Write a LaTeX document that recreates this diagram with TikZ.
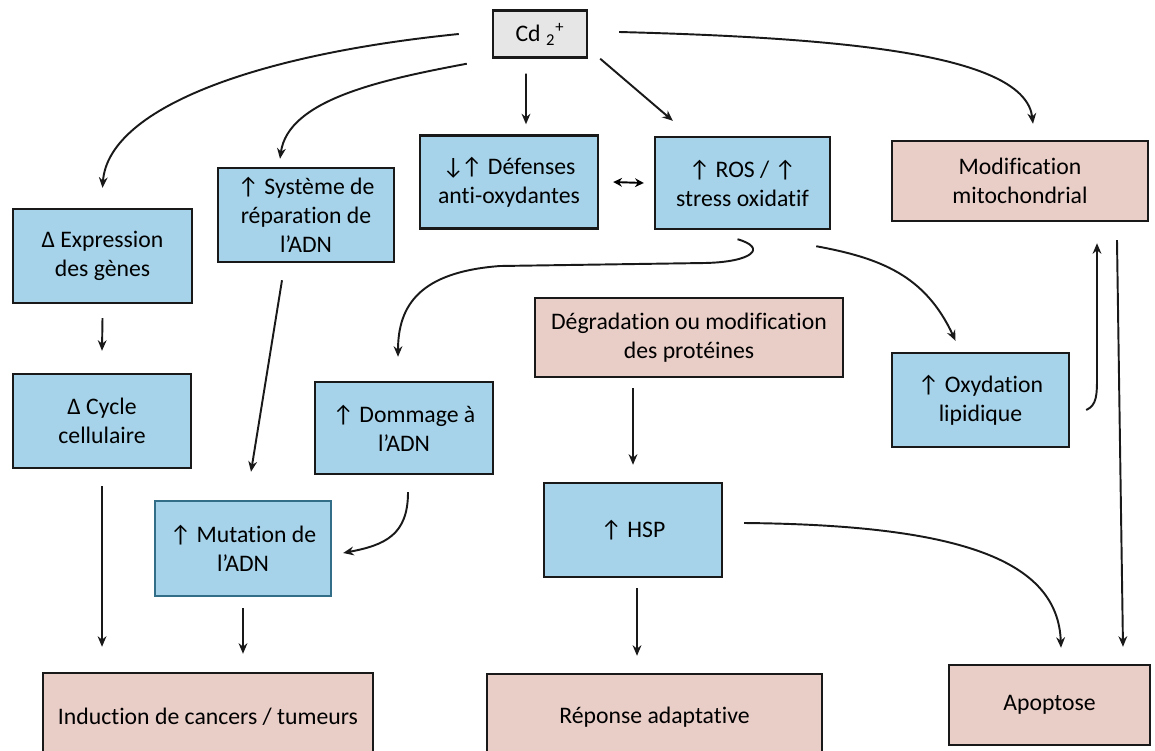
\documentclass[tikz,border=0pt]{standalone}
\usepackage{fontspec}
\setmainfont{Carlito}[Ligatures=NoCommon]
\usetikzlibrary{arrows.meta}
\definecolor{boxblue}{HTML}{A6D3E9}
\definecolor{boxpink}{HTML}{E9CDC7}
\definecolor{boxgray}{HTML}{E6E6E6}
\definecolor{mutedge}{HTML}{336E88}
\tikzset{
	box/.style={rectangle, draw=black!90, line width=1.4pt, align=center, font=\fontsize{13.5}{16.5}\selectfont, inner sep=2pt},
	bluebox/.style={box, fill=boxblue},
	pinkbox/.style={box, fill=boxpink},
	arr/.style={-{Stealth[length=6pt,width=5pt]}, line width=1.1pt, black!90},
}
\begin{document}
\begin{tikzpicture}[x=0.02cm, y=-0.02cm]
		\useasboundingbox (0,0) rectangle (1155,750);
		\node[box, fill=boxgray, minimum width=1.88cm, minimum height=0.94cm] (cd) at (540,34) {Cd \textsubscript{2}\textsuperscript{+}};

		\node[bluebox, minimum width=3.56cm, minimum height=1.86cm] (def) at (509,182) {↓\kern-0.12em↑ Défenses\\anti-oxydantes};
		\node[bluebox, minimum width=3.5cm, minimum height=1.84cm] (ros) at (742.5,183) {↑ ROS / ↑\\stress oxidatif};
		\node[pinkbox, minimum width=5.12cm, minimum height=1.6cm] (mito) at (1020,181) {Modification\\mitochondrial};
		\node[bluebox, minimum width=3.58cm, minimum height=1.88cm] (expr) at (102.5,256) {Δ Expression\\des gènes};
		\node[bluebox, minimum width=3.52cm, minimum height=1.88cm] (sys) at (306,215) {↑ Système de\\réparation de\\l’ADN};
		\node[bluebox, minimum width=3.56cm, minimum height=1.88cm] (cyc) at (102,421) {Δ Cycle\\cellulaire};
		\node[bluebox, minimum width=3.56cm, minimum height=1.84cm] (dom) at (404,428) {↑ Dommage à\\l’ADN};
		\node[bluebox, draw=mutedge, minimum width=3.52cm, minimum height=1.9cm] (mut) at (243,548.5) {↑ Mutation de\\l’ADN};
		\node[pinkbox, minimum width=6.16cm, minimum height=1.58cm] (deg) at (689,337.5) {Dégradation ou modification\\des protéines};
		\node[bluebox, minimum width=3.56cm, minimum height=1.88cm] (hsp) at (633,530) {↑ HSP};
		\node[bluebox, minimum width=3.54cm, minimum height=1.88cm] (oxy) at (980.5,400) {↑ Oxydation\\lipidique};

		\node[pinkbox, minimum width=6.6cm, minimum height=1.76cm] (ind) at (208,717) {Induction de cancers / tumeurs};
		\node[pinkbox, minimum width=6.7cm, minimum height=1.72cm] (rep) at (654.5,717) {Réponse adaptative};
		\node[pinkbox, minimum width=4.02cm, minimum height=1.6cm] (apo) at (1049.5,705) {Apoptose};

		\draw[arr] ([xshift=-0.66cm]cd.west) .. controls (250,55) and (108,110) .. ([yshift=0.4cm]expr.north);
		\draw[arr] ([xshift=-0.5cm,yshift=-0.1cm]cd.south west) .. controls (380,80) and (288,100) .. ([xshift=-0.52cm,yshift=0.16cm]sys.north);
		\draw[arr] ([xshift=-0.28cm,yshift=-0.3cm]cd.south) -- ([xshift=0.34cm,yshift=0.2cm]def.north);
		\draw[arr] ([xshift=0.24cm]cd.south east) -- ([xshift=0.38cm,yshift=0.3cm]ros.north west);
		\draw[arr] ([xshift=0.62cm,yshift=0.04cm]cd.east) .. controls (850,38) and (1025,55) .. ([xshift=0.26cm,yshift=0.32cm]mito.north);
		\draw[{Stealth[length=5pt,width=5pt]}-{Stealth[length=5pt,width=5pt]}, line width=1.1pt] ([xshift=0.28cm]def.east) -- ([xshift=-0.2cm]ros.west);

		\draw[arr] ([xshift=-0.1cm,yshift=-0.18cm]ros.south) .. controls (768,248) and (752,262) .. (705,263)
			-- (500,266) .. controls (420,272) and (398,305) .. ([xshift=-0.12cm,yshift=0.48cm]dom.north);
		\draw[arr] ([xshift=-0.3cm,yshift=-0.32cm]ros.south east) .. controls (880,258) and (925,275) .. ([xshift=-0.5cm,yshift=0.22cm]oxy.north);
		\draw[arr] ([xshift=0.32cm,yshift=-0.2cm]oxy.east) .. controls (1097,405) and (1097,395) .. (1097,375) -- ([xshift=1.54cm,yshift=-0.42cm]mito.south);
		\draw[arr] ([xshift=1.94cm,yshift=-0.36cm]mito.south) -- ([xshift=1.47cm,yshift=0.34cm]apo.north);

		\draw[arr] ([yshift=-0.28cm]expr.south) -- ([yshift=0.44cm]cyc.north);
		\draw[arr] ([xshift=-0.48cm,yshift=-0.34cm]sys.south) -- ([xshift=0.16cm,yshift=0.56cm]mut.north);
		\draw[arr] ([yshift=-0.34cm]cyc.south) -- ([xshift=-2.12cm,yshift=0.5cm]ind.north);
		\draw[arr] ([yshift=-0.22cm]mut.south) -- ([xshift=0.7cm,yshift=0.36cm]ind.north);
		\draw[arr] ([xshift=0.08cm,yshift=-0.34cm]dom.south) .. controls (408,535) and (385,545) .. ([xshift=0.22cm,yshift=-0.09cm]mut.east);

		\draw[arr] ([xshift=-1.12cm,yshift=-0.2cm]deg.south) -- ([yshift=0.34cm]hsp.north);
		\draw[arr] ([xshift=0.08cm,yshift=-0.2cm]hsp.south) -- ([xshift=-0.35cm,yshift=0.34cm]rep.north);
		\draw[arr] ([xshift=0.42cm,yshift=0.14cm]hsp.east) .. controls (960,525) and (1058,560) .. ([xshift=0.23cm,yshift=0.32cm]apo.north);
	\end{tikzpicture}
\end{document}
